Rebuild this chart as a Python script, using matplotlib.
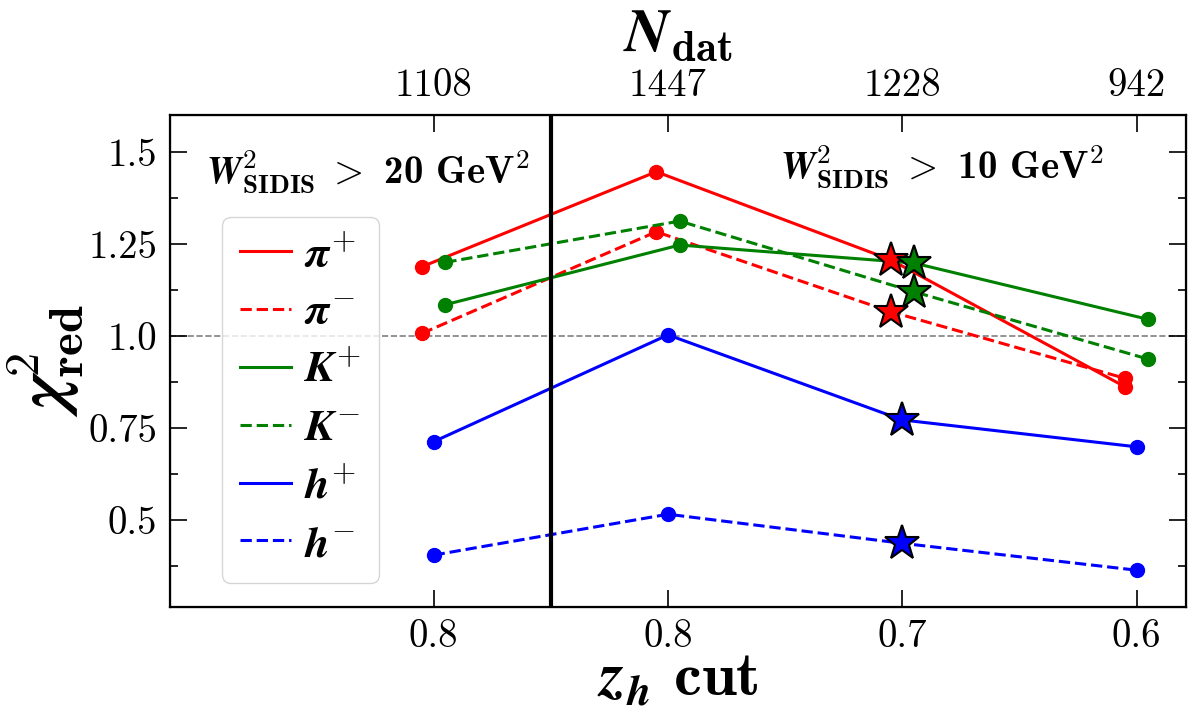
import numpy as np
import matplotlib
matplotlib.use("Agg")
import matplotlib.pyplot as plt
from matplotlib.lines import Line2D
from matplotlib.ticker import FixedLocator

plt.rcParams['font.family'] = 'serif'
plt.rcParams['font.serif'] = ['cmr10']
plt.rcParams['mathtext.fontset'] = 'cm'
plt.rcParams['axes.unicode_minus'] = False
plt.rcParams['axes.formatter.use_mathtext'] = True

# z_h cut for each group of fits and number of data points
zh_labels = ['0.8', '0.8', '0.7', '0.6']
ndat_labels = ['1108', '1447', '1228', '942']

# reduced chi2 per hadron
chi2_pip = [1.188, 1.446, 1.207, 0.862]
chi2_pim = [1.007, 1.283, 1.066, 0.885]
chi2_kp = [1.085, 1.247, 1.198, 1.045]
chi2_km = [1.200, 1.312, 1.120, 0.937]
chi2_hp = [0.713, 1.003, 0.772, 0.699]
chi2_hm = [0.405, 0.516, 0.437, 0.364]

series = [
    (chi2_pip, 'red', '-', -0.05, r'$\boldsymbol{\pi}^{\boldsymbol{+}}$'),
    (chi2_pim, 'red', '--', -0.05, r'$\boldsymbol{\pi}^{\boldsymbol{-}}$'),
    (chi2_kp, 'green', '-', 0.05, r'$\boldsymbol{K}^{\boldsymbol{+}}$'),
    (chi2_km, 'green', '--', 0.05, r'$\boldsymbol{K}^{\boldsymbol{-}}$'),
    (chi2_hp, 'blue', '-', 0.0, r'$\boldsymbol{h}^{\boldsymbol{+}}$'),
    (chi2_hm, 'blue', '--', 0.0, r'$\boldsymbol{h}^{\boldsymbol{-}}$'),
]
best = 2  # chosen cut, marked with a star

fig = plt.figure(figsize=(11.96, 7.07), dpi=100)
ax = fig.add_axes([0.1421, 0.1414, 0.8495, 0.6959])

pos = np.arange(len(zh_labels))
handles = []
for vals, col, ls, dx, lab in series:
    x = pos + dx
    ax.plot(x, vals, color=col, ls=ls, lw=2.2, marker='o', ms=10,
            markevery=[i for i in range(len(vals)) if i != best])
    ax.plot(x[best], vals[best], marker='*', ms=26, color=col,
            mec='black', mew=1.5, ls='none', zorder=5)
    handles.append(Line2D([], [], color=col, ls=ls, lw=2.2, label=lab))

ax.axhline(1.0, color='gray', ls='--', lw=1.2, zorder=0)
ax.axvline(0.5, color='black', lw=3)

ax.set_xlim(-1.125, 3.21)
ax.set_ylim(0.264, 1.6)

ax.set_xticks(pos)
ax.set_xticklabels(zh_labels)
ax.yaxis.set_major_locator(FixedLocator([0.5, 0.75, 1.0, 1.25, 1.5]))
ax.set_yticklabels(['0.5', '0.75', '1.0', '1.25', '1.5'])
ax.yaxis.set_minor_locator(FixedLocator([0.375, 0.625, 0.875, 1.125, 1.375]))
ax.tick_params(axis='both', which='major', direction='in', length=12, width=1.2,
               labelsize=28, top=False, right=True, pad=9)
ax.tick_params(axis='y', which='minor', direction='in', length=6, width=1.2, right=True)
for sp in ax.spines.values():
    sp.set_linewidth(1.6)

ax.set_xlabel(r'$\boldsymbol{z}_{\boldsymbol{h}}\ \mathbf{cut}$', fontsize=45, labelpad=-2)
ax.set_ylabel(r'$\boldsymbol{\chi}^{\mathbf{2}}_{\mathbf{red}}$', fontsize=50, labelpad=2)

top = ax.twiny()
top.set_xlim(ax.get_xlim())
top.set_xticks(pos)
top.set_xticklabels(ndat_labels)
top.tick_params(axis='x', direction='in', length=12, width=1.2, labelsize=28, pad=8)
top.set_xlabel(r'$\boldsymbol{N}_{\mathbf{dat}}$', fontsize=44, labelpad=12)

ax.text(0.035, 0.884, r'$\boldsymbol{W}^{\mathbf{2}}_{\mathbf{SIDIS}}\;>$ 20 GeV$^{\mathbf{2}}$',
        transform=ax.transAxes, fontsize=28, family='cmb10', va='center', ha='left')
ax.text(0.6, 0.894, r'$\boldsymbol{W}^{\mathbf{2}}_{\mathbf{SIDIS}}\;>$ 10 GeV$^{\mathbf{2}}$',
        transform=ax.transAxes, fontsize=28, family='cmb10', va='center', ha='left')

ax.legend(handles=handles, loc='upper left', bbox_to_anchor=(0.051, 0.793),
          borderaxespad=0, fontsize=32, handlelength=1.15, handletextpad=0.3,
          labelspacing=0.4, frameon=True, edgecolor='#cccccc', fancybox=True)

fig.savefig('out.png', dpi=100)
